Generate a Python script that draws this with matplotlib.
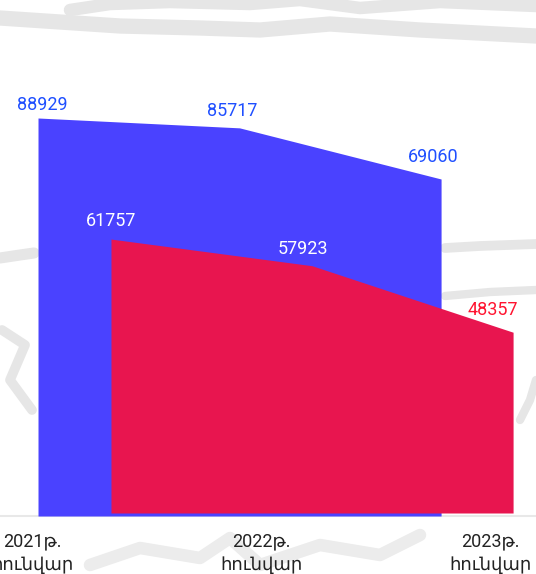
import matplotlib
matplotlib.use("Agg")
import matplotlib.pyplot as plt

categories = ["2021թ.\nհունվար", "2022թ.\nհունվար", "2023թ.\nհունվար"]
series_back = [88929, 85717, 69060]   # blue
series_front = [61757, 57923, 48357]  # red

BLUE = "#4a42ff"
RED = "#e8154f"
BLUE_TXT = "#1f4fff"
RED_TXT = "#ff1430"
FONT = ["Roboto", "DejaVu Sans"]

W, H = 536, 574
fig = plt.figure(figsize=(W / 100, H / 100), dpi=100)
fig.patch.set_facecolor("white")

# decorative light background strokes (the reference has a faint sketched backdrop)
bg = fig.add_axes([0, 0, 1, 1], zorder=0)
bg.set_xlim(0, W); bg.set_ylim(H, 0); bg.axis("off")
gray = "#e6e6e6"
bg.plot([0, 60, 120, 200, 260, 330, 420, 536], [18, 22, 26, 28, 30, 24, 30, 36], color=gray, lw=11, solid_capstyle="round")
bg.plot([70, 110, 170, 250, 300, 360, 440, 536], [10, 4, 2, 4, 0, 8, 2, 6], color=gray, lw=9, solid_capstyle="round")
bg.plot([445, 480, 536], [248, 246, 244], color=gray, lw=7, solid_capstyle="round")
bg.plot([445, 490, 536], [296, 292, 290], color=gray, lw=6, solid_capstyle="round")
bg.plot([0, 20, 34], [258, 255, 253], color=gray, lw=8, solid_capstyle="round")
bg.plot([2, 25, 10, 32], [330, 345, 380, 410], color=gray, lw=7, solid_capstyle="round")
bg.plot([520, 530, 536], [420, 400, 380], color=gray, lw=6, solid_capstyle="round")
bg.plot([90, 140, 200, 230, 260, 320, 380, 420], [565, 548, 558, 538, 565, 545, 555, 535], color="#ececec", lw=9, solid_capstyle="round")

x = [0, 1, 2]
bottom_b = (H - 516) / H
bottom_r = (H - 513) / H

# back series (blue)
ax_b = fig.add_axes([0, bottom_b, 1, 516 / H], zorder=1)
ax_b.set_xlim(-0.1886, 2.471)
ax_b.set_ylim(-40713, 127365)
ax_b.fill_between(x, series_back, -40713, color=BLUE, lw=0)
ax_b.axis("off")
ax_b.patch.set_alpha(0)
b_off = [(4, 13), (-7, 17), (-8, 22)]
for xi, v, (dx, dy) in zip(x, series_back, b_off):
    ax_b.annotate(str(v), (xi, v), xytext=(dx * 0.72, dy * 0.72), textcoords="offset points",
                  ha="center", va="center", fontsize=13, color=BLUE_TXT, family=FONT)

# front series (red)
ax_r = fig.add_axes([0, bottom_r, 1, 513 / H], zorder=2)
ax_r.set_xlim(-0.552, 2.114)
ax_r.set_ylim(22353, 96144)
ax_r.fill_between(x, series_front, 22353, color=RED, lw=0)
ax_r.axis("off")
ax_r.patch.set_alpha(0)
r_off = [(0, 18), (-9, 17), (-20, 22)]
r_col = ["white", "white", RED_TXT]
for xi, v, (dx, dy), c in zip(x, series_front, r_off, r_col):
    ax_r.annotate(str(v), (xi, v), xytext=(dx * 0.72, dy * 0.72), textcoords="offset points",
                  ha="center", va="center", fontsize=13, color=c, family=FONT)

# category axis
ax_t = fig.add_axes([0, bottom_b, 1, 516 / H], zorder=0.5)
ax_t.set_xlim(-0.14, 2.197)
ax_t.set_ylim(0, 1)
ax_t.patch.set_alpha(0)
for s in ["top", "left", "right"]:
    ax_t.spines[s].set_visible(False)
ax_t.spines["bottom"].set_color("#e8e8e8")
ax_t.spines["bottom"].set_linewidth(1.5)
ax_t.set_yticks([])
ax_t.set_xticks(x)
ax_t.set_xticklabels(categories, fontsize=13, color="#222222", linespacing=1.35, family=FONT)
ax_t.tick_params(axis="x", length=0, pad=12)

fig.savefig("out.png", dpi=100, facecolor="white")
